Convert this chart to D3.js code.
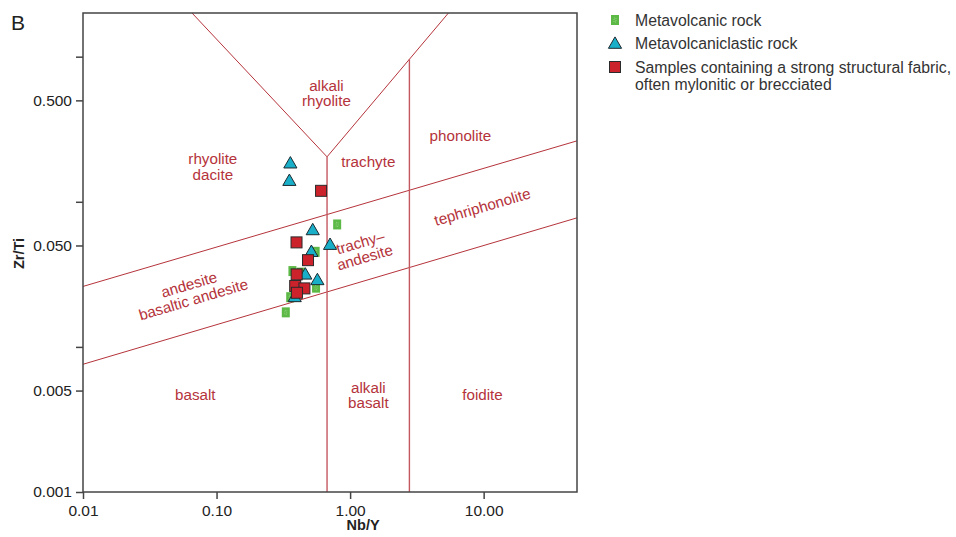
<!DOCTYPE html>
<html>
<head>
<meta charset="utf-8">
<script src="https://d3js.org/d3.v7.min.js"></script>
<style>
  body { margin: 0; background: #fff; }
  svg { font-family: "Liberation Sans", Arial, sans-serif; }
</style>
</head>
<body>
<svg width="956" height="537"></svg>
<script>
// tick values and labels
var xTicks = [0.01, 0.1, 1, 10];
var xTickLabels = ["0.01", "0.10", "1.00", "10.00"];
var yTicks = [0.001, 0.005, 0.01, 0.05, 0.1, 0.5, 1];
var yTickLabels = ["0.001", "0.005", "", "0.050", "", "0.500", ""];

// samples, Nb/Y and Zr/Ti
var metavolcanicNbY = [0.80, 0.552, 0.370, 0.428, 0.556, 0.356, 0.330];
var metavolcanicZrTi = [0.0698, 0.0452, 0.0333, 0.0325, 0.0256, 0.0220, 0.0173];
var clasticNbY = [0.357, 0.351, 0.525, 0.708, 0.513, 0.462, 0.569, 0.385];
var clasticZrTi = [0.186, 0.141, 0.0645, 0.0511, 0.0457, 0.0319, 0.0292, 0.0223];
var fabricNbY = [0.606, 0.397, 0.484, 0.398, 0.388, 0.455, 0.400];
var fabricZrTi = [0.119, 0.0525, 0.0396, 0.0316, 0.0263, 0.0253, 0.0236];

// field boundaries (Pearce 1996), as [Nb/Y, Zr/Ti] pairs
var boundaries = [
  [[0.01, 0.0261], [50, 0.263]],
  [[0.01, 0.00759], [50, 0.0775]],
  [[0.0655, 2], [0.672, 0.204], [5.45, 2]],
  [[0.672, 0.001], [0.672, 0.204]],
  [[2.78, 0.001], [2.78, 0.96]]
];

var fieldNames = [
  ["alkali", "rhyolite"], ["rhyolite", "dacite"], ["trachyte"], ["phonolite"],
  ["tephriphonolite"], ["trachy\u2013", "andesite"], ["andesite", "basaltic andesite"],
  ["basalt"], ["alkali", "basalt"], ["foidite"]
];
var fieldNbY = [0.665, 0.0938, 1.37, 6.70, 9.80, 1.24, 0.0647, 0.0693, 1.37, 9.80];
var fieldZrTi = [0.557, 0.173, 0.188, 0.284, 0.0918, 0.0464, 0.0238, 0.00464, 0.00464, 0.00464];
var fieldTilted = [false, false, false, false, true, true, true, false, false, false];

var svg = d3.select("svg"),
    margin = {top: 13, left: 83},
    width = 494,
    height = 479;

var x = d3.scaleLog().domain([0.01, 50]).range([0, width]),
    y = d3.scaleLog().domain([0.001, 2]).range([height, 0]);

var red = "#b5333b", axisColor = "#444";
var tilt = -Math.atan((y(0.0261) - y(0.263)) / width) * 180 / Math.PI;

svg.append("text")
    .attr("x", 11).attr("y", 30)
    .attr("font-size", 21)
    .attr("fill", "#222")
    .text("B");

var g = svg.append("g")
    .attr("transform", "translate(" + margin.left + "," + margin.top + ")");

var line = d3.line()
    .x(function(d) { return x(d[0]); })
    .y(function(d) { return y(d[1]); });

g.selectAll(".boundary")
    .data(boundaries)
    .enter().append("path")
    .attr("class", "boundary")
    .attr("d", line)
    .attr("fill", "none")
    .attr("stroke", function(d, i) { return i > 2 ? "#c4585f" : red; })
    .attr("stroke-width", function(d, i) { return i > 2 ? 1.4 : 1; });

// field names
var labels = g.selectAll(".field")
    .data(fieldNames)
    .enter().append("text")
    .attr("class", "field")
    .attr("text-anchor", "middle")
    .attr("font-size", 15.2)
    .attr("fill", red)
    .attr("transform", function(d, i) {
      return "translate(" + x(fieldNbY[i]) + "," + y(fieldZrTi[i]) + ")" +
        (fieldTilted[i] ? " rotate(" + tilt + ")" : "");
    });

labels.selectAll("tspan")
    .data(function(d) { return d; })
    .enter().append("tspan")
    .attr("x", 0)
    .attr("y", function(d, j, nodes) { return (j - (nodes.length - 1) / 2) * 15.5 + 5; })
    .text(function(d) { return d; });

// axes
g.append("rect")
    .attr("width", width).attr("height", height)
    .attr("fill", "none")
    .attr("stroke", axisColor)
    .attr("stroke-width", 1.5);

var xAxis = g.append("g")
    .attr("transform", "translate(0," + height + ")")
    .call(d3.axisBottom(x).tickValues(xTicks).tickSize(7).tickPadding(6)
      .tickFormat(function(d, i) { return xTickLabels[i]; }));

var yAxis = g.append("g")
    .call(d3.axisLeft(y).tickValues(yTicks).tickSize(7).tickPadding(4)
      .tickFormat(function(d, i) { return yTickLabels[i]; }));

[xAxis, yAxis].forEach(function(a) {
  a.select(".domain").remove();
  a.selectAll("line").attr("stroke", axisColor).attr("stroke-width", 1.5);
  a.selectAll("text")
      .attr("font-family", "Liberation Sans, Arial, sans-serif")
      .attr("font-size", 15.5)
      .attr("fill", "#222");
});

g.append("text")
    .attr("x", x(1) + 13).attr("y", height + 38)
    .attr("text-anchor", "middle")
    .attr("font-size", 14.5)
    .attr("font-weight", "bold")
    .attr("fill", "#222")
    .text("Nb/Y");

g.append("text")
    .attr("transform", "translate(-59," + (y(0.05) + 8) + ") rotate(-90)")
    .attr("text-anchor", "middle")
    .attr("font-size", 14.5)
    .attr("font-weight", "bold")
    .attr("fill", "#222")
    .text("Zr/Ti");

// markers
function drawGreen(sel) {
  sel.append("rect")
      .attr("x", -4).attr("y", -5).attr("width", 8).attr("height", 10)
      .attr("fill", "#5cb946");
  sel.append("rect")
      .attr("x", -1).attr("y", -2).attr("width", 2).attr("height", 4)
      .attr("fill", "none")
      .attr("stroke", "#b6e3a8")
      .attr("stroke-width", 0.6)
      .attr("stroke-dasharray", "1,1");
}
function drawTriangle(sel) {
  sel.append("path")
      .attr("d", d3.symbol().type(d3.symbolTriangle).size(75)())
      .attr("transform", "translate(0,1.5)")
      .attr("fill", "#19afc9")
      .attr("stroke", "#1d2a30")
      .attr("stroke-width", 1);
}
function drawSquare(sel) {
  sel.append("rect")
      .attr("x", -5.5).attr("y", -5.5).attr("width", 11).attr("height", 11)
      .attr("fill", "#cc222c")
      .attr("stroke", "#2b2b2b")
      .attr("stroke-width", 1);
}

g.selectAll(".metavolcanic")
    .data(metavolcanicNbY)
    .enter().append("g")
    .attr("class", "metavolcanic")
    .attr("transform", function(d, i) { return "translate(" + x(d) + "," + y(metavolcanicZrTi[i]) + ")"; })
    .call(drawGreen);

g.selectAll(".clastic")
    .data(clasticNbY)
    .enter().append("g")
    .attr("class", "clastic")
    .attr("transform", function(d, i) { return "translate(" + x(d) + "," + y(clasticZrTi[i]) + ")"; })
    .call(drawTriangle);

g.selectAll(".fabric")
    .data(fabricNbY)
    .enter().append("g")
    .attr("class", "fabric")
    .attr("transform", function(d, i) { return "translate(" + x(d) + "," + y(fabricZrTi[i]) + ")"; })
    .call(drawSquare);

// legend
var legendItems = [
  {lines: ["Metavolcanic rock"], draw: drawGreen},
  {lines: ["Metavolcaniclastic rock"], draw: drawTriangle},
  {lines: ["Samples containing a strong structural fabric,", "often mylonitic or brecciated"], draw: drawSquare}
];
var legendY = [20, 43, 67];

var legend = svg.selectAll(".legend")
    .data(legendItems)
    .enter().append("g")
    .attr("class", "legend")
    .attr("transform", function(d, i) { return "translate(615," + legendY[i] + ")"; });

legend.each(function(d) { d3.select(this).call(d.draw); });

legend.append("text")
    .attr("font-size", 15.8)
    .attr("fill", "#333")
    .selectAll("tspan")
    .data(function(d) { return d.lines; })
    .enter().append("tspan")
    .attr("x", 20)
    .attr("y", function(d, j) { return 5.5 + j * 17; })
    .text(function(d) { return d; });
</script>
</body>
</html>
